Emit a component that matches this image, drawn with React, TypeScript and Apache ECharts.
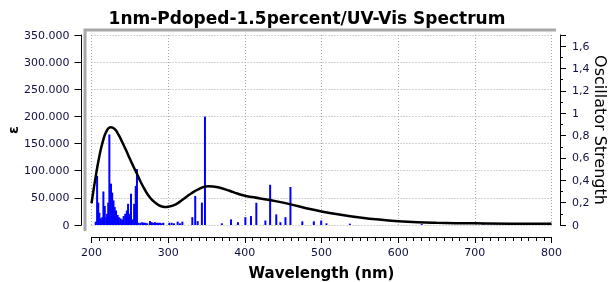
import React, { useEffect, useRef } from 'react';
import * as echarts from 'echarts';

const titleText = '1nm-Pdoped-1.5percent/UV-Vis Spectrum';
const xName = 'Wavelength (nm)';
const yLeftName = 'ε';
const yRightName = 'Oscillator Strength';

// Convoluted spectrum (ε)
const curveNm = [200, 205, 210, 215, 220, 225, 230, 235, 240, 245, 250, 255, 260, 265, 270, 275, 280, 285, 290, 295, 300, 310, 320, 330, 340, 352, 365, 380, 390, 400, 420, 440, 460, 480, 500, 525, 550, 575, 600, 625, 650, 700, 750, 800];
const curveEps = [40000, 85000, 125000, 155000, 174000, 180000, 177000, 167000, 153000, 138000, 122000, 107000, 92000, 77000, 64000, 53000, 45000, 39000, 35000, 33000, 33500, 38000, 48000, 58000, 66000, 71500, 69500, 63000, 58000, 54000, 49000, 44000, 38000, 31000, 25000, 19000, 14000, 10000, 7000, 5000, 4000, 3000, 2500, 2500];

// Oscillator strengths (sticks)
const oscNm = [205.5, 207.3, 208.8, 210.3, 212.1, 214.0, 215.5, 217.3, 219.2, 220.3, 221.8, 223.3, 225.4, 227.0, 228.7, 230.3, 232.0, 234.1, 235.7, 237.8, 239.9, 241.9, 244.0, 246.1, 247.7, 249.8, 251.5, 253.9, 255.6, 257.7, 259.3,
  261.5, 264.1, 266.3, 268.5, 270.6, 272.8, 276.3, 278.5, 280.6, 282.8, 285.0, 287.0, 289.3, 291.5, 293.7, 301.5, 304.6, 307.6, 312.4, 315.4, 318.5,
  331.5, 335.3, 338.5, 344.0, 348.0,
  370.0, 382.0, 391.0, 400.7, 408.0, 415.0, 426.8, 433.0, 441.0, 446.4, 453.0, 459.5, 475.0, 490.0, 499.6, 506.5, 537.0, 630.7, 711.0];
const oscF = [0.03, 0.44, 0.20, 0.11, 0.06, 0.07, 0.30, 0.17, 0.07, 0.10, 0.20, 0.81, 0.37, 0.29, 0.22, 0.16, 0.13, 0.09, 0.07, 0.06, 0.05, 0.08, 0.10, 0.13, 0.19, 0.10, 0.28, 0.05, 0.19, 0.35, 0.50,
  0.02, 0.02, 0.025, 0.02, 0.02, 0.015, 0.035, 0.025, 0.02, 0.025, 0.02, 0.02, 0.02, 0.015, 0.02, 0.02, 0.02, 0.015, 0.03, 0.015, 0.03,
  0.07, 0.26, 0.035, 0.20, 0.97,
  0.015, 0.05, 0.025, 0.07, 0.08, 0.20, 0.04, 0.36, 0.095, 0.025, 0.07, 0.34, 0.033, 0.033, 0.04, 0.015, 0.012, 0.008, 0.006];

export default function App() {
  const ref = useRef<HTMLDivElement>(null);
  useEffect(() => {
    const chart = echarts.init(ref.current!, null, { renderer: 'svg' });
    const font = 'DejaVu Sans';
    const labelColor = '#101040';
    const gridLine = { show: true, lineStyle: { color: '#a8a8a8', type: [1, 2], width: 1 } };
    chart.setOption({
      animation: false,
      title: {
        text: titleText,
        left: 'center',
        top: 4,
        textStyle: { fontFamily: font, fontSize: 17, fontWeight: 'bold', color: '#000' },
      },
      grid: { left: 91.5, right: 62.5, top: 35, bottom: 57, containLabel: false, outerBoundsMode: 'none' },
      xAxis: {
        type: 'value',
        min: 200,
        max: 800,
        interval: 100,
        offset: 12,
        name: xName,
        nameLocation: 'middle',
        nameGap: 28,
        nameMoveOverlap: false,
        nameTextStyle: { fontFamily: font, fontSize: 15, fontWeight: 'bold', color: '#000' },
        axisLine: { show: true, onZero: false, lineStyle: { color: '#000', width: 1 } },
        axisTick: { show: true, length: 6, lineStyle: { color: '#000' } },
        minorTick: { show: true, splitNumber: 10, length: 4, lineStyle: { color: '#000' } },
        axisLabel: { margin: 10, color: labelColor, fontFamily: font, fontSize: 11 },
        splitLine: gridLine,
        minorSplitLine: { show: false },
      },
      yAxis: [
        {
          type: 'value',
          min: 0,
          max: 350000,
          interval: 50000,
          position: 'left',
          offset: 10,
          name: yLeftName,
          nameLocation: 'middle',
          nameGap: 62,
          nameRotate: 90,
          nameMoveOverlap: false,
          nameTextStyle: { fontFamily: font, fontSize: 14, fontWeight: 'bold', color: '#000' },
          axisLine: { show: true, onZero: false, lineStyle: { color: '#000', width: 1 } },
          axisTick: { show: true, length: 7, lineStyle: { color: '#000' } },
          axisLabel: {
            margin: 12,
            color: labelColor,
            fontFamily: font,
            fontSize: 11,
            formatter: (v: number) => (v === 0 ? '0' : `${v / 1000}.000`),
          },
          splitLine: gridLine,
        },
        {
          type: 'value',
          min: 0,
          max: 1.7,
          interval: 0.2,
          position: 'right',
          offset: 8.5,
          name: yRightName,
          nameLocation: 'middle',
          nameGap: 32,
          nameRotate: -90,
          nameMoveOverlap: false,
          nameTextStyle: { fontFamily: font, fontSize: 16, color: '#000' },
          axisLine: { show: true, onZero: false, lineStyle: { color: '#000', width: 1 } },
          axisTick: { show: true, length: 6, lineStyle: { color: '#000' } },
          minorTick: { show: true, splitNumber: 2, length: 3, lineStyle: { color: '#000' } },
          axisLabel: {
            margin: 12,
            color: labelColor,
            fontFamily: font,
            fontSize: 11,
            formatter: (v: number) => (v > 1.65 ? '' : String(Math.round(v * 10) / 10).replace('.', ',')),
          },
          splitLine: { show: false },
        },
      ],
      graphic: [
        {
          type: 'polyline',
          shape: { points: [[85, 231], [85, 30], [556, 30]] },
          style: { stroke: '#a8a8a8', lineWidth: 3, fill: 'none' },
          z: 1,
        },
      ],
      series: [
        {
          type: 'bar',
          yAxisIndex: 1,
          barWidth: 2,
          itemStyle: { color: '#0000ff' },
          data: oscNm.map((n, i) => [n, oscF[i]]),
          z: 2,
        },
        {
          type: 'line',
          yAxisIndex: 0,
          smooth: 0.5,
          showSymbol: false,
          symbol: 'none',
          lineStyle: { color: '#000', width: 2.5 },
          data: curveNm.map((n, i) => [n, curveEps[i]]),
          z: 3,
        },
      ],
    });
    return () => chart.dispose();
  }, []);
  return <div ref={ref} style={{ position: 'fixed', left: 0, top: 0, width: 614, height: 282 }} />;
}
